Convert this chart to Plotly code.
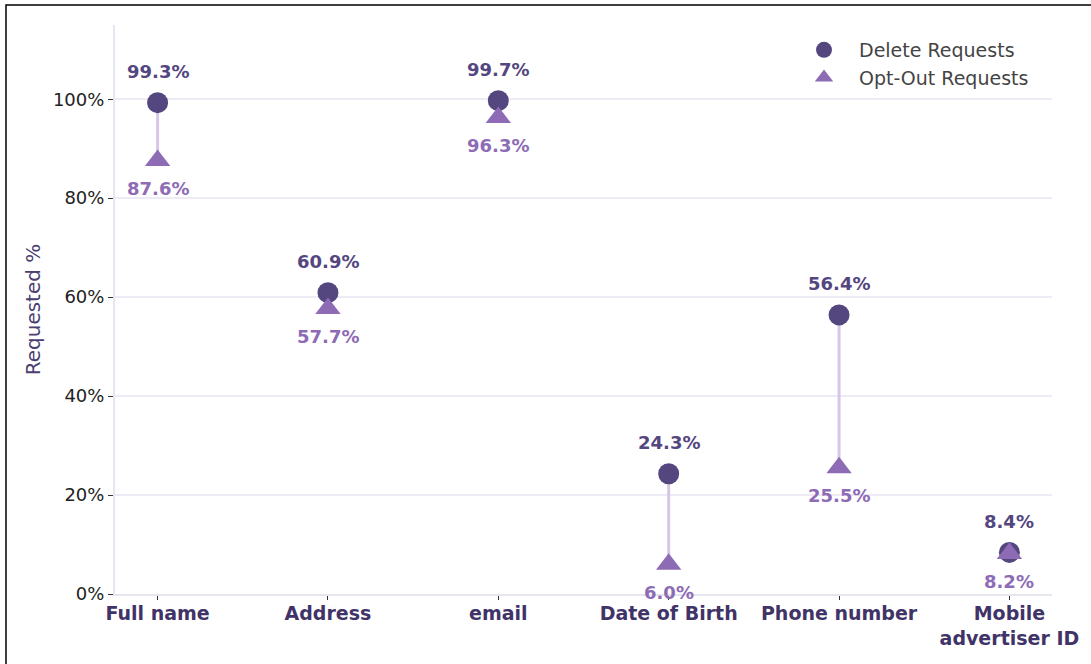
import plotly.graph_objects as go

categories = ["Full name", "Address", "email", "Date of Birth", "Phone number", "Mobile<br>advertiser ID"]
delete_vals = [99.3, 60.9, 99.7, 24.3, 56.4, 8.4]
optout_vals = [87.6, 57.7, 96.3, 6.0, 25.5, 8.2]
y_ticks = [0, 20, 40, 60, 80, 100]
y_tick_text = ["0%", "20%", "40%", "60%", "80%", "100%"]

DARK = "#54467f"
LIGHT = "#8e6bb5"
STEM = "#d5c7e8"
FONT = "DejaVu Sans"

x_idx = list(range(len(categories)))

fig = go.Figure()

# stems
for i, (d, o) in enumerate(zip(delete_vals, optout_vals)):
    fig.add_trace(go.Scatter(x=[i, i], y=[o, d], mode="lines",
                             line=dict(color=STEM, width=3), showlegend=False, hoverinfo="skip"))

fig.add_trace(go.Scatter(x=x_idx, y=delete_vals, mode="markers", name="Delete Requests",
                         marker=dict(symbol="circle", size=21, color=DARK)))
fig.add_trace(go.Scatter(x=x_idx, y=optout_vals, mode="markers", name="Opt-Out Requests",
                         marker=dict(symbol="triangle-up", size=22, color=LIGHT)))

for i, (d, o) in enumerate(zip(delete_vals, optout_vals)):
    fig.add_annotation(x=i, y=d, text=f"<b>{d:.1f}%</b>", showarrow=False, yshift=31,
                       font=dict(family=FONT, size=18, color=DARK))
    fig.add_annotation(x=i, y=o, text=f"<b>{o:.1f}%</b>", showarrow=False, yshift=-28,
                       font=dict(family=FONT, size=18, color=LIGHT))

# layout geometry
L, R, T, B = 115, 39, 25, 70
W, H = 1091, 664
pw, ph = W - L - R, H - T - B
def px(xp): return (xp - L) / pw
def py(yp): return (H - B - yp) / ph

# figure border (left and top visible)
fig.add_shape(type="rect", xref="paper", yref="paper",
              x0=px(6), x1=px(1100), y0=py(680), y1=py(5),
              line=dict(color="black", width=1.5), fillcolor="rgba(0,0,0,0)", layer="below")

fig.update_layout(
    width=W, height=H,
    margin=dict(l=L, r=R, t=T, b=B),
    paper_bgcolor="white", plot_bgcolor="white",
    font=dict(family=FONT, size=18, color="#222222"),
    showlegend=True,
    legend=dict(x=px(789), y=py(31), xanchor="left", yanchor="top",
                font=dict(family=FONT, size=19, color="#444444"),
                bgcolor="rgba(255,255,255,0)", itemwidth=60, tracegroupgap=2),
    xaxis=dict(range=[-0.25, 5.25], tickmode="array", tickvals=x_idx,
               ticktext=[f"<b>{c}</b>" for c in categories],
               tickfont=dict(family=FONT, size=19, color="#3f3368"),
               showgrid=False, zeroline=False, showline=True, linecolor="#e6e6ee", linewidth=2,
               ticks="outside", ticklen=4, tickcolor="#333", tickwidth=1,
               ticklabelstandoff=-3),
    yaxis=dict(range=[0, 115], tickmode="array", tickvals=y_ticks, ticktext=y_tick_text,
               tickfont=dict(family=FONT, size=18, color="#222222"),
               showgrid=True, gridcolor="#eeebf7", gridwidth=2, zeroline=False,
               showline=True, linecolor="#e6e6ee", linewidth=2,
               ticks="outside", ticklen=5, tickcolor="#333", tickwidth=1,
               title=dict(text="Requested %", font=dict(family=FONT, size=20, color="#4b3f72"), standoff=7)),
)

fig.write_html("out.html", post_script="document.body.style.margin='0';",
               config={"displayModeBar": False})
